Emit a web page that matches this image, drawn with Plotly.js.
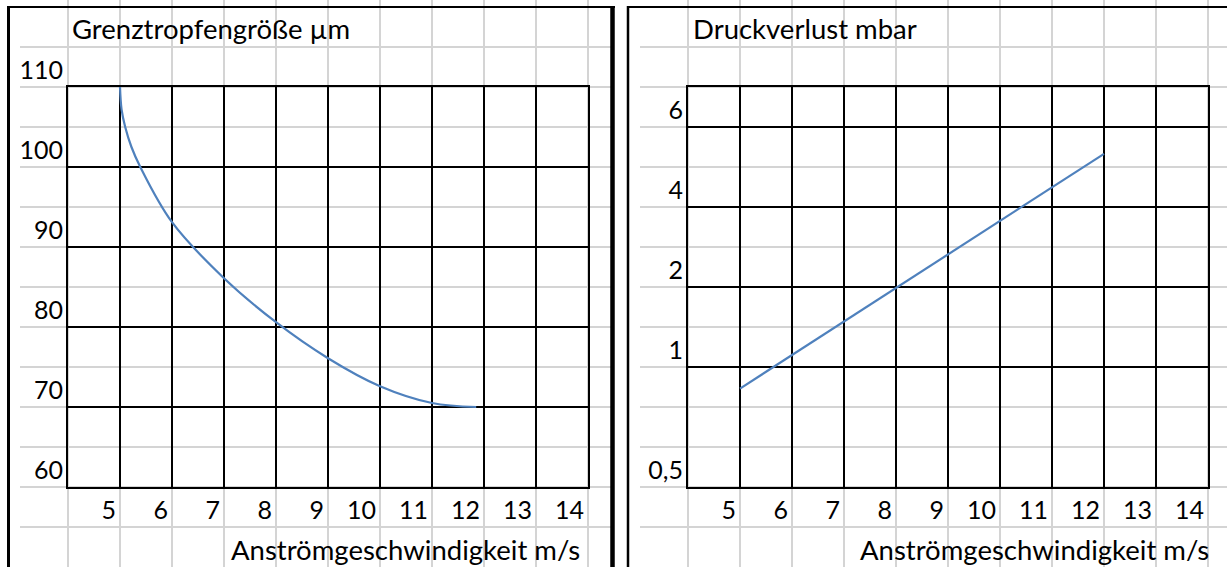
<!DOCTYPE html>
<html>
<head>
<meta charset="utf-8">
<script src="https://cdn.plot.ly/plotly-3.0.1.min.js"></script>
<style>html,body{margin:0;padding:0;background:#fff;}#chart{width:1227px;height:567px;}</style>
</head>
<body>
<div id="chart"></div>
<script>
// ---- data ----
const speedTicks = [5, 6, 7, 8, 9, 10, 11, 12, 13, 14];
const dropSizeTicks = [60, 70, 80, 90, 100, 110];
const pressureTickValues = [0.5, 1, 2, 4, 6];
const pressureTickText = ['0,5', '1', '2', '4', '6'];

const dropSpeed = [5, 5.03, 5.1, 5.22, 5.39, 6, 7, 8, 9, 10, 11, 11.85];
const dropSize  = [110, 107.2, 105, 102.5, 100, 93.1, 86.1, 80.6, 76.1, 72.6, 70.5, 70];

const pressSpeed = [5, 6, 8, 10, 12];
const pressLoss  = [0.91, 1.15, 1.99, 3.65, 5.33];

const titleLeft = 'Grenztropfengröße µm';
const titleRight = 'Druckverlust mbar';
const xTitle = 'Anströmgeschwindigkeit m/s';

// ---- layout helpers ----
const W = 1227, H = 567;
const px = p => p / W;
const py = p => 1 - p / H;
// the right chart's value axis is a hand-drawn, uneven scale: slots on a linear positional axis
const pressureSlots = [0, 3, 5, 7, 9];
function pressurePos(v) {
  const a = pressureTickValues, s = pressureSlots;
  for (let i = 0; i < a.length - 1; i++) {
    if (v <= a[i + 1] || i === a.length - 2) {
      return s[i] + (v - a[i]) / (a[i + 1] - a[i]) * (s[i + 1] - s[i]);
    }
  }
}

const FONT = 'Lato, "Open Sans", sans-serif';
const GREY = '#d4d4d4';
const BLUE = '#4f81bd';
const tickFont = {family: FONT, size: 25, color: '#000'};
const titleFont = {family: FONT, size: 27.5, color: '#000'};

const bgAxis = (extra) => Object.assign({
  showgrid: true, gridcolor: GREY, gridwidth: 2, zeroline: false,
  showline: false, showticklabels: false, ticks: '', fixedrange: true
}, extra);

const fgX = (extra) => Object.assign({
  range: [4, 14], tickmode: 'array', tickvals: speedTicks, ticktext: speedTicks.map(String),
  showgrid: true, gridcolor: '#000', gridwidth: 2, zeroline: false,
  showline: true, linecolor: '#000', linewidth: 2, mirror: true, ticks: '',
  ticklabelposition: 'outside left', ticklabelshift: -3, ticklabelstandoff: 0,
  tickfont: tickFont, fixedrange: true
}, extra);

const fgY = (extra) => Object.assign({
  tickmode: 'array',
  showgrid: true, gridcolor: '#000', gridwidth: 2, zeroline: false,
  showline: true, linecolor: '#000', linewidth: 2, mirror: true, ticks: '',
  ticklabelshift: -17, ticklabelstandoff: -2,
  tickfont: tickFont, fixedrange: true
}, extra);

const traces = [
  {x: [null], y: [null], xaxis: 'x', yaxis: 'y', hoverinfo: 'skip', showlegend: false},
  {x: [null], y: [null], xaxis: 'x2', yaxis: 'y2', hoverinfo: 'skip', showlegend: false},
  {x: dropSpeed, y: dropSize, xaxis: 'x3', yaxis: 'y3', mode: 'lines',
   line: {color: BLUE, width: 2.2, shape: 'spline', smoothing: 1}, showlegend: false},
  {x: pressSpeed, y: pressLoss.map(pressurePos), xaxis: 'x4', yaxis: 'y4', mode: 'lines',
   line: {color: BLUE, width: 2.2}, showlegend: false}
];

const layout = {
  width: W, height: H, autosize: false,
  margin: {l: 0, r: 0, t: 0, b: 0, pad: 0},
  paper_bgcolor: '#fff', plot_bgcolor: 'rgba(0,0,0,0)',
  showlegend: false,
  font: {family: FONT, size: 25, color: '#000'},
  // spreadsheet cell grid behind the left chart
  xaxis: bgAxis({domain: [px(20), px(612)], range: [4 - 48 / 52, 4 + 544 / 52], dtick: 1, tick0: 4, anchor: 'y'}),
  yaxis: bgAxis({domain: [0, 1], range: [110 - 480 / 8, 110 + 87 / 8], dtick: 5, tick0: 50, anchor: 'x'}),
  // spreadsheet cell grid behind the right chart
  xaxis2: bgAxis({domain: [px(640), 1], range: [4 - 48 / 52, 4 + 539 / 52], dtick: 1, tick0: 4, anchor: 'y2'}),
  yaxis2: bgAxis({domain: [0, 1], range: [-80 / 40, 487 / 40], dtick: 1, tick0: 0, anchor: 'x2'}),
  // left chart
  xaxis3: fgX({domain: [px(68), px(588)], anchor: 'y3'}),
  yaxis3: fgY({domain: [py(487), py(87)], range: [60, 110], anchor: 'x3',
    tickvals: dropSizeTicks, ticktext: dropSizeTicks.map(String)}),
  // right chart
  xaxis4: fgX({domain: [px(688), px(1208)], anchor: 'y4'}),
  yaxis4: fgY({domain: [py(487), py(87)], range: [0, 10], anchor: 'x4',
    tickvals: pressureTickValues.map(pressurePos), ticktext: pressureTickText}),
  annotations: [
    {text: titleLeft, xref: 'paper', yref: 'paper', x: px(70), y: py(29), xanchor: 'left', yanchor: 'middle', showarrow: false, font: titleFont},
    {text: titleRight, xref: 'paper', yref: 'paper', x: px(691), y: py(29), xanchor: 'left', yanchor: 'middle', showarrow: false, font: titleFont},
    {text: xTitle, xref: 'paper', yref: 'paper', x: px(582), y: py(549), xanchor: 'right', yanchor: 'middle', showarrow: false, font: titleFont},
    {text: xTitle, xref: 'paper', yref: 'paper', x: px(1211), y: py(549), xanchor: 'right', yanchor: 'middle', showarrow: false, font: titleFont}
  ],
  shapes: [
    {type: 'line', xref: 'paper', yref: 'paper', x0: px(8.5), x1: px(8.5), y0: py(6), y1: 0, line: {color: '#000', width: 3}},
    {type: 'line', xref: 'paper', yref: 'paper', x0: px(7), x1: px(615), y0: py(7), y1: py(7), line: {color: '#000', width: 2}},
    {type: 'line', xref: 'paper', yref: 'paper', x0: px(612.5), x1: px(612.5), y0: py(6), y1: 0, line: {color: '#000', width: 4.5}},
    {type: 'line', xref: 'paper', yref: 'paper', x0: px(628), x1: px(628), y0: py(6), y1: 0, line: {color: '#000', width: 2.5}},
    {type: 'line', xref: 'paper', yref: 'paper', x0: px(627), x1: 1, y0: py(7), y1: py(7), line: {color: '#000', width: 2}}
  ]
};

Plotly.newPlot('chart', traces, layout, {displayModeBar: false, staticPlot: true});
</script>
</body>
</html>
